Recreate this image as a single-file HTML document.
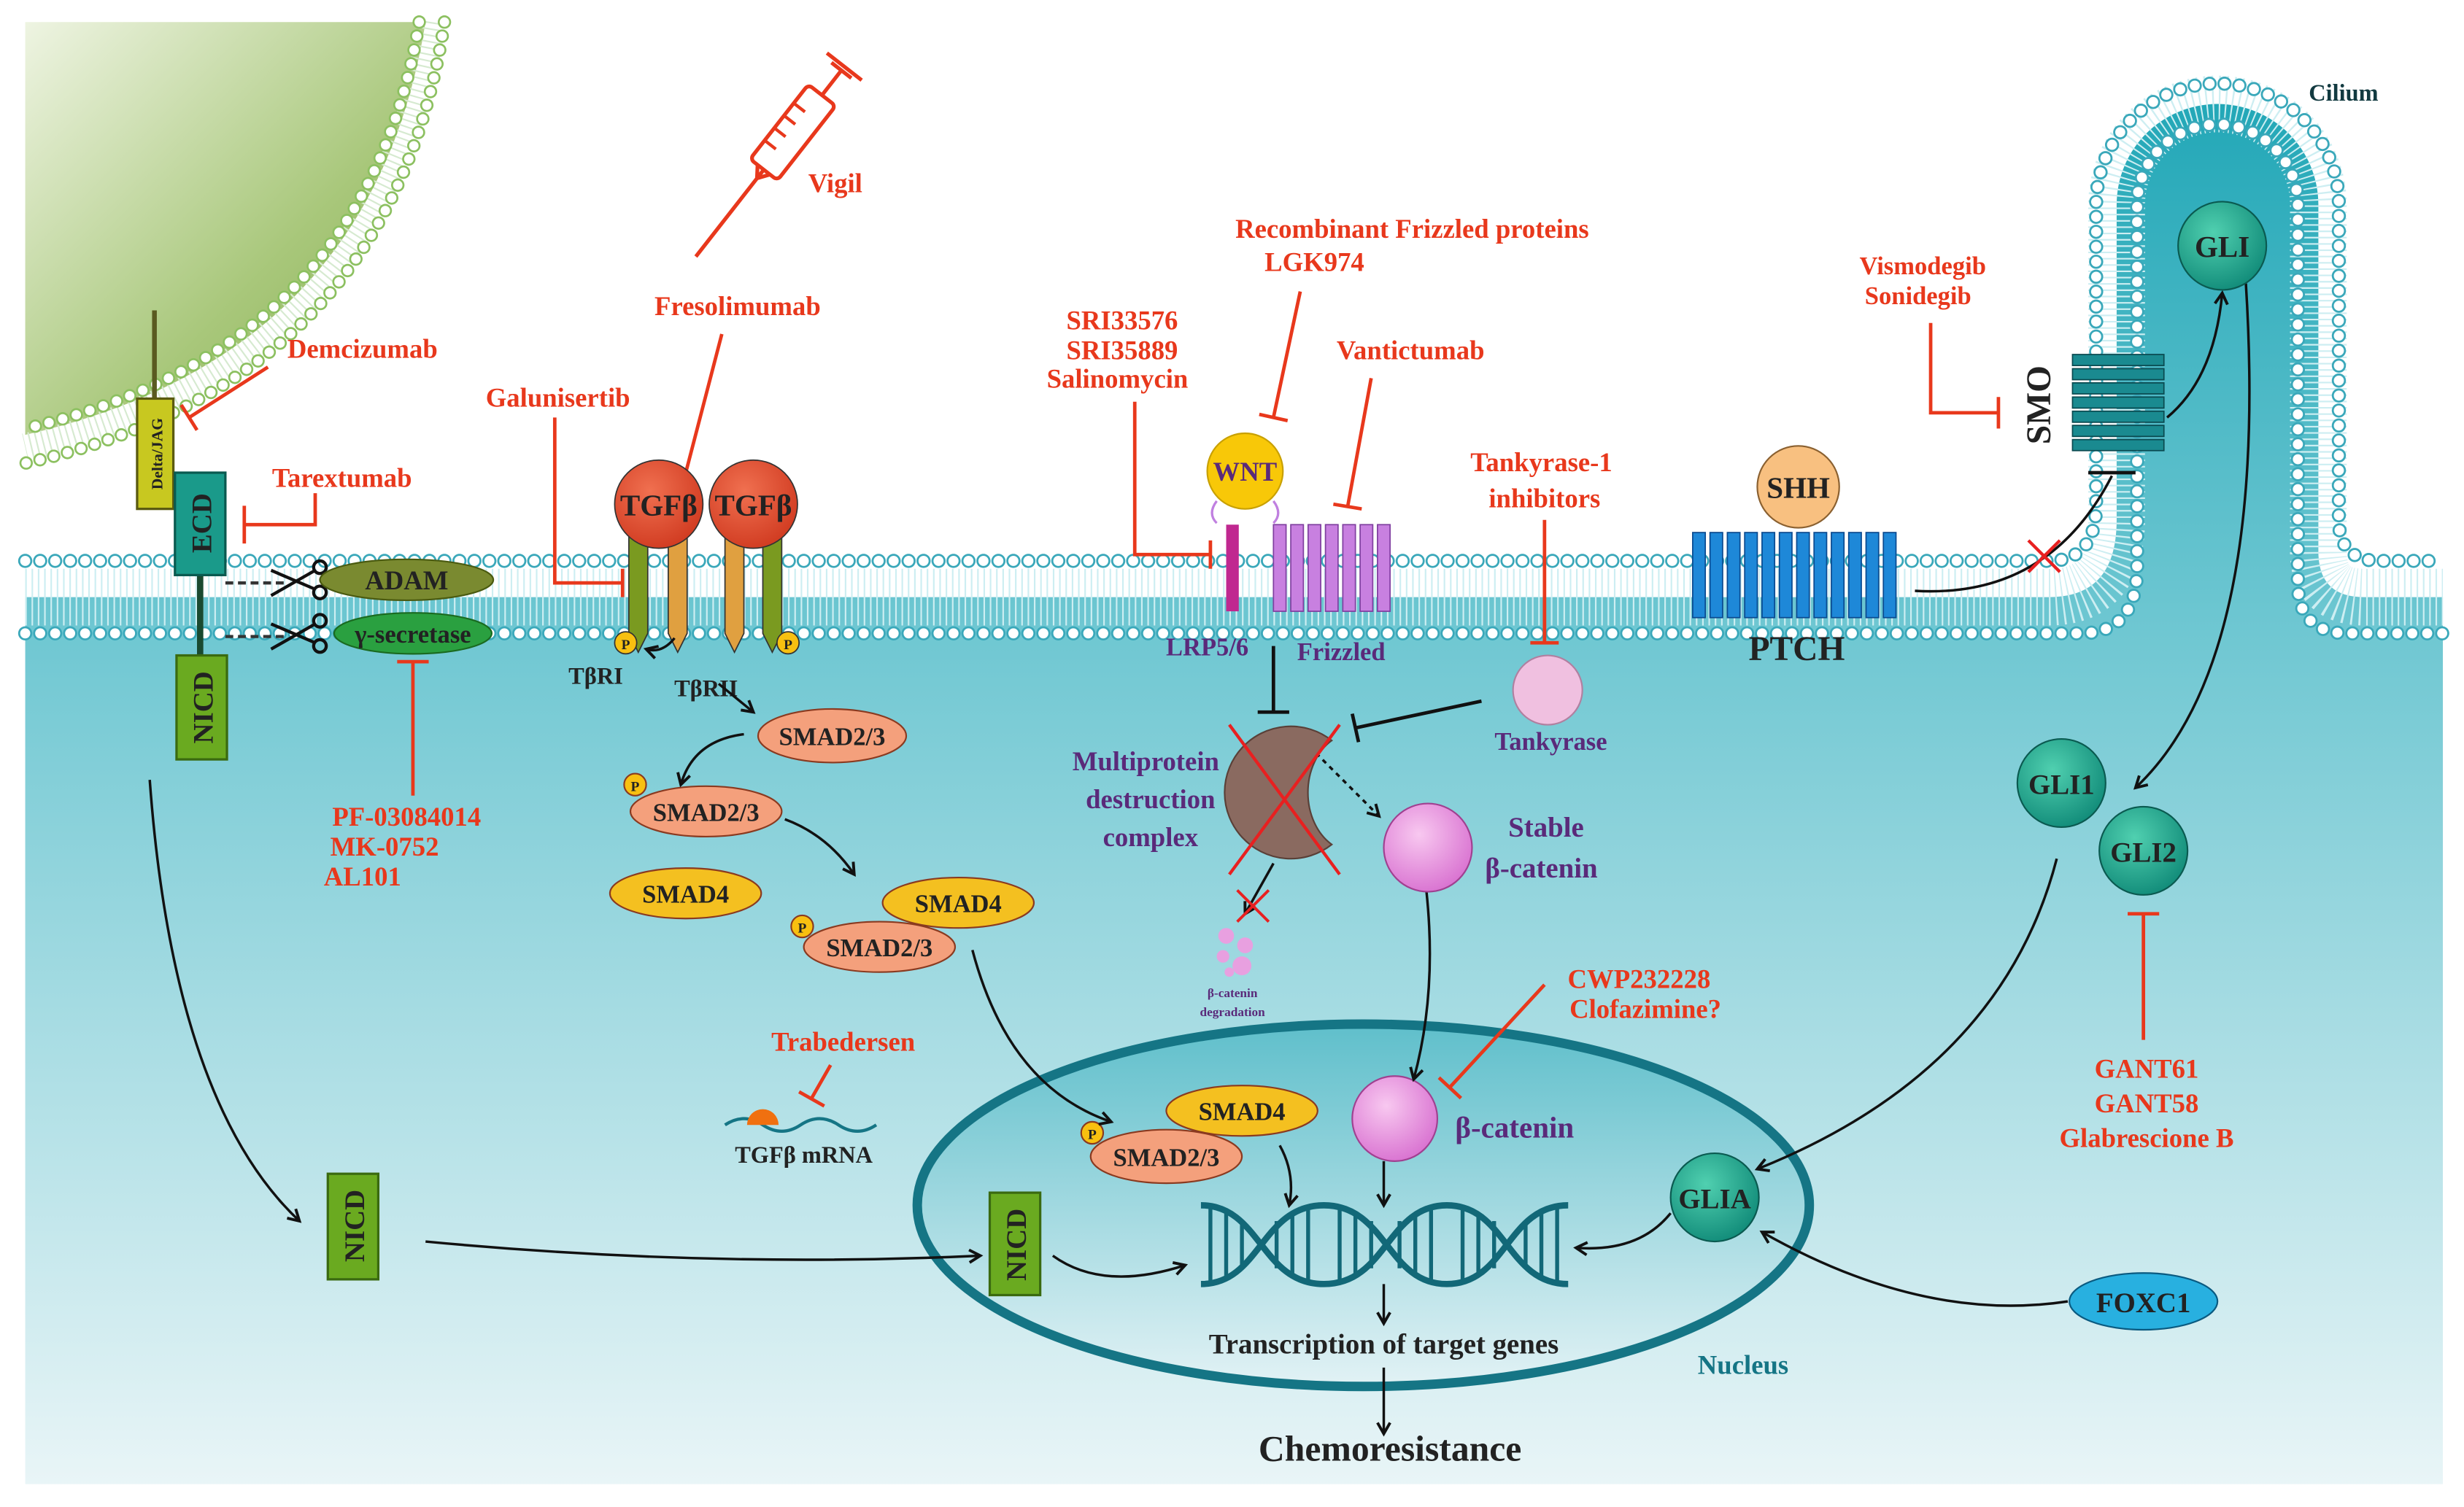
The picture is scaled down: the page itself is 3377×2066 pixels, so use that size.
<!DOCTYPE html>
<html><head><meta charset="utf-8"><style>
html,body{margin:0;padding:0;background:#fff}
svg{display:block}
text{font-family:"Liberation Serif",serif;font-weight:bold}
.r{fill:#e8381c;text-anchor:middle}
.k{fill:#222;text-anchor:middle}
.p{fill:#5a2a7a;text-anchor:middle}
</style></head><body>
<svg width="3377" height="2066" viewBox="0 0 1563.4 956.5" preserveAspectRatio="none" xmlns="http://www.w3.org/2000/svg" font-size="17">
<defs>
<linearGradient id="cyto" gradientUnits="userSpaceOnUse" x1="0" y1="50" x2="0" y2="942">
<stop offset="0" stop-color="#1fa6b6"/><stop offset="0.38" stop-color="#6cc6d1"/><stop offset="1" stop-color="#e9f5f7"/></linearGradient>
<linearGradient id="cell" x1="0" y1="0" x2="1" y2="1">
<stop offset="0" stop-color="#eef4e2"/><stop offset="0.6" stop-color="#a8c77a"/><stop offset="1" stop-color="#86ad52"/></linearGradient>
<linearGradient id="nuc" gradientUnits="userSpaceOnUse" x1="0" y1="650" x2="0" y2="880">
<stop offset="0" stop-color="#5fbfcb"/><stop offset="1" stop-color="#e2f2f5"/></linearGradient>
<radialGradient id="red" cx="0.4" cy="0.35" r="0.7"><stop offset="0" stop-color="#f07050"/><stop offset="1" stop-color="#d03a20"/></radialGradient>
<radialGradient id="pink" cx="0.4" cy="0.35" r="0.7"><stop offset="0" stop-color="#f8c8f0"/><stop offset="1" stop-color="#d870d0"/></radialGradient>
<radialGradient id="teal" cx="0.4" cy="0.35" r="0.7"><stop offset="0" stop-color="#50d0b0"/><stop offset="1" stop-color="#108a78"/></radialGradient>
<marker id="ar" markerWidth="10" markerHeight="10" refX="8" refY="5" orient="auto" markerUnits="userSpaceOnUse"><path d="M1,1 L8,5 L1,9" fill="none" stroke="#111" stroke-width="1.8"/></marker>
</defs>

<path d="M16,379 L1300,379 Q1343,379 1343,330 L1343,130 A64,64 0 0 1 1471,130 L1471,350 Q1471,379 1500,379 L1550,379 L1550,942 L16,942 Z" fill="url(#cyto)"/>
<path d="M16,379 L1300,379 Q1343,379 1343,330 L1343,130 A64,64 0 0 1 1471,130 L1471,350 Q1471,379 1500,379 L1550,379" fill="none" stroke="#cdeef2" stroke-width="36" stroke-dasharray="1 3"/>
<g fill="none" stroke-linecap="round" stroke-dasharray="0 9.5">
<path d="M16,356 L1300,356 Q1330,356 1330,320 L1330,130 A77,77 0 0 1 1484,130 L1484,330 Q1484,356 1510,356 L1550,356" stroke="#3aa8ba" stroke-width="9"/>
<path d="M16,356 L1300,356 Q1330,356 1330,320 L1330,130 A77,77 0 0 1 1484,130 L1484,330 Q1484,356 1510,356 L1550,356" stroke="#fff" stroke-width="6.4"/>
<path d="M16,402 L1320,402 Q1356,402 1356,360 L1356,130 A51,51 0 0 1 1458,130 L1458,370 Q1458,402 1490,402 L1550,402" stroke="#3aa8ba" stroke-width="9"/>
<path d="M16,402 L1320,402 Q1356,402 1356,360 L1356,130 A51,51 0 0 1 1458,130 L1458,370 Q1458,402 1490,402 L1550,402" stroke="#fff" stroke-width="6.4"/>
</g>

<path d="M16,14 L270,14 Q236,226 16,276 Z" fill="url(#cell)"/>
<path d="M274,14 Q240,233 16,284" fill="none" stroke="#d6ead0" stroke-width="18" stroke-dasharray="1 3"/>
<g fill="none" stroke-linecap="round" stroke-dasharray="0 9">
<path d="M282,14 Q248,242 16,294" stroke="#8cc060" stroke-width="8.5"/>
<path d="M282,14 Q248,242 16,294" stroke="#fff" stroke-width="6"/>
<path d="M266,14 Q232,222 16,272" stroke="#8cc060" stroke-width="8.5"/>
<path d="M266,14 Q232,222 16,272" stroke="#fff" stroke-width="6"/>
</g>

<!-- nucleus (background) -->
<ellipse cx="865" cy="765" rx="283" ry="115" fill="url(#nuc)" stroke="#157585" stroke-width="6"/>

<!-- Notch -->
<line x1="98" y1="197" x2="98" y2="253" stroke="#5a5a20" stroke-width="3"/>
<rect x="87" y="253" width="23" height="70" fill="#c8c820" stroke="#5a5a10" stroke-width="1.5"/>
<text transform="translate(103,288) rotate(-90)" class="k" font-size="10">Delta/JAG</text>
<line x1="127" y1="365" x2="127" y2="416" stroke="#1a4a30" stroke-width="4"/>
<rect x="111" y="300" width="32" height="65" fill="#1a9a8a" stroke="#0a5a50" stroke-width="1.5"/>
<text transform="translate(134,332) rotate(-90)" class="k" font-size="18">ECD</text>
<rect x="112" y="416" width="32" height="66" fill="#6aaa20" stroke="#3a6a10" stroke-width="1.5"/>
<text transform="translate(135,449) rotate(-90)" class="k" font-size="18">NICD</text>
<line x1="143" y1="370" x2="180" y2="370" stroke="#333" stroke-width="2" stroke-dasharray="5 3"/>
<line x1="143" y1="404" x2="180" y2="404" stroke="#333" stroke-width="2" stroke-dasharray="5 3"/>
<g stroke="#111" stroke-width="2" fill="none"><path d="M172,362 L200,374 M172,378 L200,362"/><circle cx="203" cy="360" r="4"/><circle cx="203" cy="376" r="4"/>
<path d="M172,396 L200,408 M172,412 L200,396"/><circle cx="203" cy="394" r="4"/><circle cx="203" cy="410" r="4"/></g>
<ellipse cx="258" cy="368" rx="55" ry="13" fill="#7a8a30" stroke="#4a5a10"/>
<text x="258" y="374" class="k" font-size="17">ADAM</text>
<ellipse cx="262" cy="402" rx="50" ry="13" fill="#2aa040" stroke="#1a6a20"/>
<text x="262" y="408" class="k" font-size="16">γ-secretase</text>
<g stroke="#e8381c" stroke-width="2.2" fill="none">
<path d="M262,505 L262,420 M252,420 L272,420"/>
<path d="M170,233 L120,265 M115,257 L125,273"/>
<path d="M200,313 L200,333 L155,333 M155,321 L155,345"/>
<path d="M458,212 L432,312 M423,310 L441,315"/>
<path d="M352,265 L352,370 L395,370 M395,361 L395,379"/>
<path d="M527,676 L515,697 M507,693 L523,702"/>
<path d="M720,255 L720,352 L768,352 M768,343 L768,361"/>
<path d="M825,185 L808,265 M799,263 L817,267"/>
<path d="M870,240 L855,322 M846,320 L864,323"/>
<path d="M980,330 L980,408 M971,408 L989,408"/>
<path d="M980,625 L920,690 M913,684 L927,697"/>
<path d="M1225,205 L1225,262 L1268,262 M1268,252 L1268,272"/>
<path d="M1360,660 L1360,580 M1350,580 L1370,580"/>
</g>
<text x="230" y="227" class="r">Demcizumab</text>
<text x="217" y="309" class="r">Tarextumab</text>
<text x="258" y="524" class="r">PF-03084014</text>
<text x="244" y="543" class="r">MK-0752</text>
<text x="230" y="562" class="r">AL101</text>

<g transform="translate(500,88) rotate(38)" stroke="#e8381c" stroke-width="2.4" fill="none">
<rect x="-11" y="-35" width="22" height="60" rx="3"/>
<path d="M0,-35 L0,-55 M-14,-58 L14,-58 M-8,-55 L8,-55 M0,25 L0,95 M-5,25 L0,32 L5,25"/>
<path d="M-11,-20 L-2,-20 M-11,-10 L-2,-10 M-11,0 L-2,0 M-11,10 L-2,10" stroke-width="2"/>
</g>
<text x="530" y="122" class="r">Vigil</text>
<text x="468" y="200" class="r">Fresolimumab</text>
<text x="354" y="258" class="r">Galunisertib</text>

<g stroke="#333" stroke-width="0.8">
<path d="M399,340 h12 v62 l-6,12 l-6,-12 z" fill="#7a9a20"/>
<path d="M424,340 h12 v62 l-6,12 l-6,-12 z" fill="#e0a040"/>
<path d="M460,340 h12 v62 l-6,12 l-6,-12 z" fill="#e0a040"/>
<path d="M484,340 h12 v62 l-6,12 l-6,-12 z" fill="#7a9a20"/>
<circle cx="418" cy="320" r="28" fill="url(#red)"/>
<circle cx="478" cy="320" r="28" fill="url(#red)"/>
<circle cx="397" cy="408" r="7" fill="#f8c010"/>
<circle cx="500" cy="408" r="7" fill="#f8c010"/>
</g>
<text x="418" y="327" class="k" font-size="19">TGFβ</text>
<text x="478" y="327" class="k" font-size="19">TGFβ</text>
<text x="397" y="412" class="k" font-size="9">P</text><text x="500" y="412" class="k" font-size="9">P</text>
<path d="M428,405 Q420,415 410,412" fill="none" stroke="#111" stroke-width="1.6" marker-end="url(#ar)"/>
<text x="378" y="434" class="k" font-size="15">TβRI</text>
<text x="448" y="442" class="k" font-size="15">TβRII</text>
<path d="M456,434 L478,452" stroke="#111" stroke-width="1.6" marker-end="url(#ar)"/>

<g stroke="#8a3a20" stroke-width="1">
<ellipse cx="528" cy="467" rx="47" ry="17" fill="#f4a07c"/>
<ellipse cx="448" cy="515" rx="48" ry="16" fill="#f4a07c"/>
<ellipse cx="435" cy="567" rx="48" ry="16" fill="#f4c020"/>
<ellipse cx="608" cy="573" rx="48" ry="16" fill="#f4c020"/>
<ellipse cx="558" cy="601" rx="48" ry="16" fill="#f4a07c"/>
<circle cx="403" cy="498" r="7" fill="#f8c010"/>
<circle cx="509" cy="588" r="7" fill="#f8c010"/>
</g>
<text x="528" y="473" class="k" font-size="16">SMAD2/3</text>
<text x="448" y="521" class="k" font-size="16">SMAD2/3</text>
<text x="435" y="573" class="k" font-size="16">SMAD4</text>
<text x="608" y="579" class="k" font-size="16">SMAD4</text>
<text x="558" y="607" class="k" font-size="16">SMAD2/3</text>
<text x="403" y="502" class="k" font-size="9">P</text><text x="509" y="592" class="k" font-size="9">P</text>

<!-- nucleus contents -->
<g stroke="#8a3a20" stroke-width="1">
<ellipse cx="788" cy="705" rx="48" ry="16" fill="#f4c020"/>
<ellipse cx="740" cy="734" rx="48" ry="17" fill="#f4a07c"/>
<circle cx="693" cy="719" r="7" fill="#f8c010"/>
</g>
<text x="788" y="711" class="k" font-size="16">SMAD4</text>
<text x="740" y="740" class="k" font-size="16">SMAD2/3</text>
<text x="693" y="723" class="k" font-size="9">P</text>
<rect x="628" y="757" width="32" height="65" fill="#6aaa20" stroke="#3a6a10" stroke-width="1.5"/>
<text transform="translate(651,790) rotate(-90)" class="k" font-size="18">NICD</text>
<rect x="208" y="745" width="32" height="67" fill="#6aaa20" stroke="#3a6a10" stroke-width="1.5"/>
<text transform="translate(231,778) rotate(-90)" class="k" font-size="18">NICD</text>
<g fill="none" stroke="#126878" stroke-width="4">
<path d="M762,765 C800,765 800,815 840,815 C880,815 880,765 918,765 C956,765 956,815 995,815"/>
<path d="M762,815 C800,815 800,765 840,765 C880,765 880,815 918,815 C956,815 956,765 995,765"/>
<g stroke-width="2.5"><path d="M768,767 v46 M778,770 v40 M788,775 v30 M810,775 v30 M820,770 v40 M830,767 v46 M850,767 v46 M860,770 v40 M870,775 v30 M888,775 v30 M898,770 v40 M908,767 v46 M928,767 v46 M938,770 v40 M948,775 v30 M968,775 v30 M978,770 v40 M988,767 v46"/></g>
</g>
<text x="878" y="859" class="k" font-size="18">Transcription of target genes</text>
<text x="1106" y="872" fill="#157585" font-size="17" text-anchor="middle">Nucleus</text>
<text x="882" y="927" class="k" font-size="23">Chemoresistance</text>
<circle cx="885" cy="710" r="27" fill="url(#pink)" stroke="#a04090"/>
<text x="961" y="722" class="p" font-size="19">β-catenin</text>

<!-- arrows -->
<g fill="none" stroke="#111" stroke-width="1.6" marker-end="url(#ar)">
<path d="M472,466 Q440,470 432,498"/>
<path d="M498,520 Q525,530 542,555"/>
<path d="M617,603 Q640,690 705,712"/>
<path d="M95,495 Q110,700 190,775"/>
<path d="M270,788 Q450,805 622,797"/>
<path d="M668,797 Q700,820 752,803"/>
<path d="M812,727 Q822,745 818,765"/>
<path d="M878,737 L878,765"/>
<path d="M878,815 L878,840"/>
<path d="M878,868 L878,910"/>
<path d="M905,565 Q912,630 897,685"/>
<path d="M835,478 L875,518" stroke-dasharray="3 3"/>
<path d="M808,548 L790,580"/>
<path d="M1215,375 Q1300,380 1340,302" marker-end="none"/>
<path d="M1375,265 Q1405,240 1410,186"/>
<path d="M1425,180 Q1440,420 1355,500"/>
<path d="M1305,545 Q1270,680 1115,742"/>
<path d="M1312,826 Q1220,840 1118,782"/>
<path d="M1060,770 Q1040,795 1000,792"/>
</g>
<path d="M1325,300 L1355,300" stroke="#111" stroke-width="2.2"/>
<path d="M1287,343 L1307,363 M1307,343 L1287,363" stroke="#e82020" stroke-width="2"/>
<path d="M940,445 L860,462 M858,453 L862,471" stroke="#111" stroke-width="2.2" fill="none"/>
<path d="M808,410 L808,452 M798,452 L818,452" stroke="#111" stroke-width="2.2" fill="none"/>
<path d="M785,565 L805,585 M805,565 L785,585" stroke="#e82020" stroke-width="1.8"/>

<text x="535" y="667" class="r">Trabedersen</text>
<path d="M460,714 q12,-8 24,0 t24,0 t24,0 t24,0" fill="none" stroke="#157585" stroke-width="2"/>
<path d="M474,714 a10,10 0 0 1 20,0 z" fill="#f07010"/>
<text x="510" y="738" class="k" font-size="15">TGFβ mRNA</text>

<text x="1040" y="627" class="r">CWP232228</text>
<text x="1044" y="646" class="r">Clofazimine?</text>
<circle cx="790" cy="299" r="24" fill="#f8c808" stroke="#c8a000"/>
<path d="M772,318 q-6,8 0,14 M808,318 q6,8 0,14" stroke="#c080e0" fill="none" stroke-width="1.5"/>
<text x="790" y="305" class="p" font-size="17">WNT</text>
<rect x="778" y="333" width="8" height="55" fill="#c02890"/>
<g fill="#c880e0" stroke="#8040a0" stroke-width="0.8">
<rect x="808" y="333" width="8" height="55"/><rect x="819" y="333" width="8" height="55"/><rect x="830" y="333" width="8" height="55"/><rect x="841" y="333" width="8" height="55"/><rect x="852" y="333" width="8" height="55"/><rect x="863" y="333" width="8" height="55"/><rect x="874" y="333" width="8" height="55"/>
</g>
<text x="766" y="416" class="p" font-size="16">LRP5/6</text>
<text x="851" y="419" class="p" font-size="16">Frizzled</text>
<text x="712" y="209" class="r">SRI33576</text>
<text x="712" y="228" class="r">SRI35889</text>
<text x="709" y="246" class="r">Salinomycin</text>
<text x="896" y="151" class="r">Recombinant Frizzled proteins</text>
<text x="834" y="172" class="r">LGK974</text>
<text x="895" y="228" class="r">Vantictumab</text>
<text x="978" y="299" class="r">Tankyrase-1</text>
<text x="980" y="322" class="r">inhibitors</text>
<circle cx="982" cy="438" r="22" fill="#f0c0e0" stroke="#b080a0"/>
<text x="984" y="476" class="p" font-size="16">Tankyrase</text>
<path d="M845,470 A42,42 0 1 0 845,536 A30,38 0 0 1 845,470 Z" fill="#8a6a60" stroke="#5a4038"/>
<path d="M780,460 L850,555 M850,460 L780,555" stroke="#e82020" stroke-width="2"/>
<text x="727" y="489" class="p">Multiprotein</text>
<text x="730" y="513" class="p">destruction</text>
<text x="730" y="537" class="p">complex</text>
<circle cx="906" cy="538" r="28" fill="url(#pink)" stroke="#a04090"/>
<text x="981" y="531" class="p" font-size="18">Stable</text>
<text x="978" y="557" class="p" font-size="18">β-catenin</text>
<g fill="#e8a0e0"><circle cx="778" cy="594" r="5"/><circle cx="790" cy="600" r="5"/><circle cx="776" cy="607" r="4"/><circle cx="788" cy="613" r="6"/><circle cx="780" cy="617" r="3"/></g>
<text x="782" y="633" class="p" font-size="8">β-catenin</text>
<text x="782" y="645" class="p" font-size="8">degradation</text>

<g fill="#1e88d8" stroke="#0a4a90" stroke-width="0.8">
<rect x="1074" y="338" width="8" height="54"/><rect x="1085" y="338" width="8" height="54"/><rect x="1096" y="338" width="8" height="54"/><rect x="1107" y="338" width="8" height="54"/><rect x="1118" y="338" width="8" height="54"/><rect x="1129" y="338" width="8" height="54"/><rect x="1140" y="338" width="8" height="54"/><rect x="1151" y="338" width="8" height="54"/><rect x="1162" y="338" width="8" height="54"/><rect x="1173" y="338" width="8" height="54"/><rect x="1184" y="338" width="8" height="54"/><rect x="1195" y="338" width="8" height="54"/>
</g>
<circle cx="1141" cy="309" r="26" fill="#f8c080" stroke="#8a6030"/>
<text x="1141" y="316" class="k" font-size="19">SHH</text>
<text x="1140" y="419" class="k" font-size="22" fill="#123">PTCH</text>
<g fill="#1a8a90" stroke="#0a4a50" stroke-width="0.8">
<rect x="1315" y="225" width="58" height="7"/><rect x="1315" y="234" width="58" height="7"/><rect x="1315" y="243" width="58" height="7"/><rect x="1315" y="252" width="58" height="7"/><rect x="1315" y="261" width="58" height="7"/><rect x="1315" y="270" width="58" height="7"/><rect x="1315" y="279" width="58" height="7"/>
</g>
<text transform="translate(1301,257) rotate(-90)" class="k" font-size="22" fill="#123">SMO</text>
<text x="1220" y="174" class="r" font-size="16">Vismodegib</text>
<text x="1217" y="193" class="r" font-size="16">Sonidegib</text>
<text x="1487" y="64" fill="#123a40" font-size="15" text-anchor="middle">Cilium</text>
<circle cx="1410" cy="156" r="28" fill="url(#teal)" stroke="#0a5a50"/>
<text x="1410" y="163" class="k" font-size="19">GLI</text>
<circle cx="1308" cy="497" r="28" fill="url(#teal)" stroke="#0a5a50"/>
<text x="1308" y="504" class="k" font-size="18">GLI1</text>
<circle cx="1360" cy="540" r="28" fill="url(#teal)" stroke="#0a5a50"/>
<text x="1360" y="547" class="k" font-size="18">GLI2</text>
<circle cx="1088" cy="760" r="28" fill="url(#teal)" stroke="#0a5a50"/>
<text x="1088" y="767" class="k" font-size="18">GLIA</text>
<ellipse cx="1360" cy="826" rx="47" ry="18" fill="#28b0e0" stroke="#0a5a80"/>
<text x="1360" y="833" class="k" font-size="18">FOXC1</text>
<text x="1362" y="684" class="r">GANT61</text>
<text x="1362" y="706" class="r">GANT58</text>
<text x="1362" y="728" class="r">Glabrescione B</text>
</svg>
</body></html>
